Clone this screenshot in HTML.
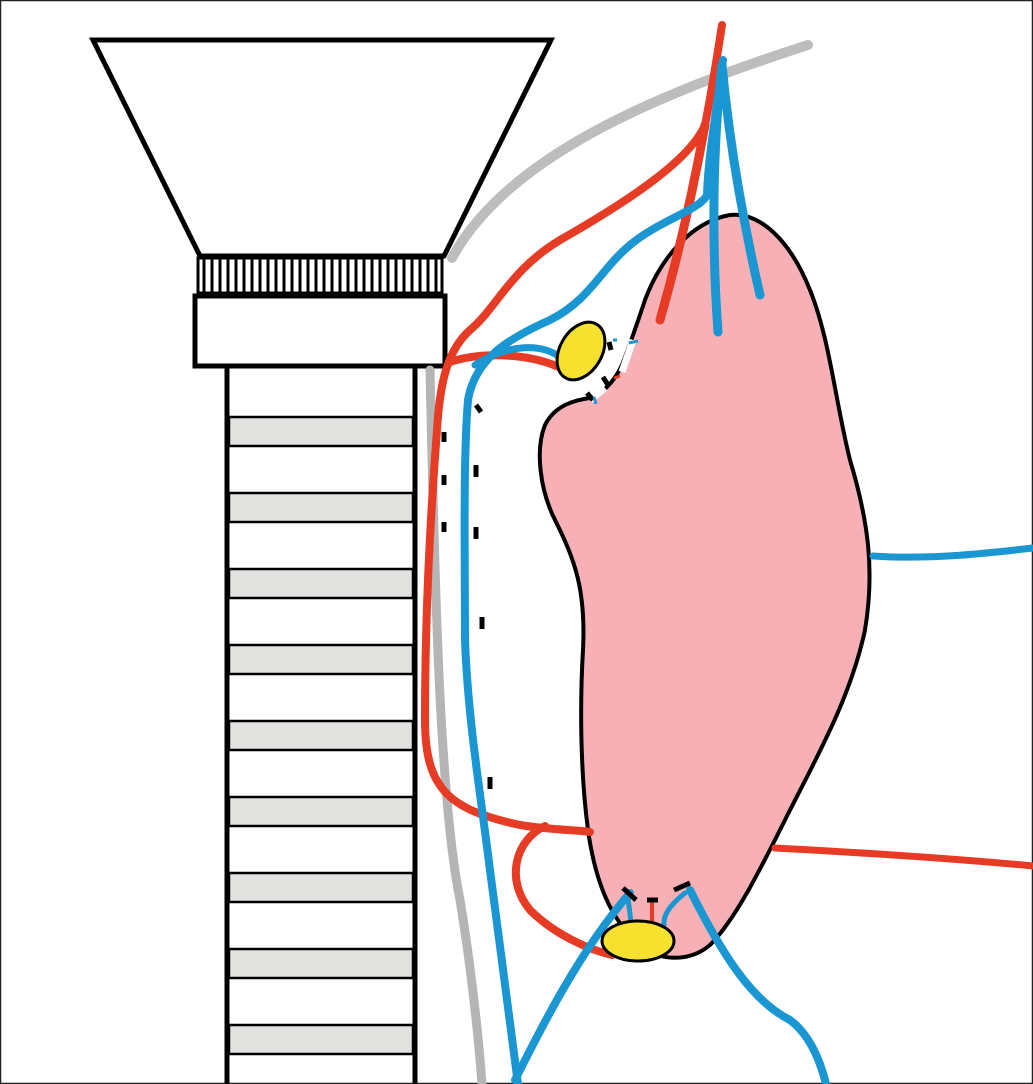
<!DOCTYPE html>
<html><head><meta charset="utf-8"><style>html,body{margin:0;padding:0;background:#fff}svg{display:block}</style></head>
<body>
<svg width="1033" height="1084" viewBox="0 0 1033 1084" xmlns="http://www.w3.org/2000/svg">
<rect x="0.5" y="0.5" width="1032" height="1083" fill="#fff" stroke="#222" stroke-width="1.5"/>
<!-- pink blob -->
<path d="M730,215 C760,212 790,240 810,290 C830,340 835,400 850,460 C868,520 875,570 865,630 C850,700 815,760 785,820 C760,870 735,920 710,945 C690,962 660,962 640,945 C610,920 595,880 588,830 C580,770 580,700 583,650 C586,590 575,560 555,520 C540,490 535,450 545,425 C555,405 575,400 590,398 C605,392 615,380 622,365 C628,350 635,330 645,300 C660,260 690,222 730,215 Z" fill="#f7b1b6" stroke="#000" stroke-width="4"/>
<!-- notch gaps -->
<path d="M633,340 L622,372 M605,388 L590,400" stroke="#fff" stroke-width="7" fill="none"/>
<!-- trapezoid -->
<polygon points="93,40 551,40 444,256 200,256" fill="#fff" stroke="#000" stroke-width="5"/>
<!-- ribbed band -->
<rect x="198" y="258" width="244" height="35" fill="#fff" stroke="#000" stroke-width="3"/>
<g stroke="#000" stroke-width="3">
<path d="M204,258V293M212,258V293M220,258V293M228,258V293M236,258V293M244,258V293M252,258V293M260,258V293M268,258V293M276,258V293M284,258V293M292,258V293M300,258V293M308,258V293M316,258V293M324,258V293M332,258V293M340,258V293M348,258V293M356,258V293M364,258V293M372,258V293M380,258V293M388,258V293M396,258V293M404,258V293M412,258V293M420,258V293M428,258V293M436,258V293"/>
</g>
<rect x="195" y="296" width="250" height="70" fill="#fff" stroke="#000" stroke-width="5"/>
<!-- column -->
<path d="M227,366V1084M415,366V1084" stroke="#000" stroke-width="5"/>
<g fill="#e2e2e0" stroke="#000" stroke-width="2.5">
<rect x="229" y="417" width="184" height="29"/>
<rect x="229" y="493" width="184" height="29"/>
<rect x="229" y="569" width="184" height="29"/>
<rect x="229" y="645" width="184" height="29"/>
<rect x="229" y="721" width="184" height="29"/>
<rect x="229" y="797" width="184" height="29"/>
<rect x="229" y="873" width="184" height="29"/>
<rect x="229" y="949" width="184" height="29"/>
<rect x="229" y="1025" width="184" height="29"/>
</g>
<g fill="none" stroke-linecap="round">
<!-- gray -->
<path d="M452,258 C500,170 620,105 808,45" stroke="#bdbdbd" stroke-width="10"/>
<path d="M430,370 C435,600 440,800 460,900 C470,960 478,1030 482,1084" stroke="#b5b5b5" stroke-width="9"/>
<!-- red -->
<path d="M722,25 C715,70 710,100 705,125 C690,160 630,200 560,240 C510,270 495,310 470,330 C448,350 440,380 437,430 C430,520 425,620 425,720 C425,790 450,810 520,825 C550,830 580,830 590,832" stroke="#e63b24" stroke-width="8"/>
<path d="M705,125 C695,180 680,250 660,320" stroke="#e63b24" stroke-width="9"/>
<path d="M450,362 C480,352 530,352 565,370" stroke="#e63b24" stroke-width="8"/>
<path d="M545,826 C515,840 505,880 530,910 C555,935 590,950 612,955" stroke="#e63b24" stroke-width="8"/>
<path d="M775,848 C850,852 950,858 1033,866" stroke="#e63b24" stroke-width="7"/>
<!-- blue -->
<path d="M723,60 C715,120 708,160 707,195 C700,210 660,220 630,245 C600,270 590,300 550,320 C505,340 475,360 468,400 C463,460 465,560 465,640 C468,720 480,790 490,870 C500,950 510,1020 518,1084" stroke="#1a97d2" stroke-width="8"/>
<path d="M722,65 C712,150 712,250 718,332" stroke="#1a97d2" stroke-width="9"/>
<path d="M722,65 C730,150 745,230 760,295" stroke="#1a97d2" stroke-width="9"/>
<path d="M475,365 C505,345 545,340 565,362" stroke="#1a97d2" stroke-width="7"/>
<path d="M515,1080 C540,1030 580,950 630,893" stroke="#1a97d2" stroke-width="8"/>
<path d="M690,890 C720,950 750,1000 790,1020 C810,1035 820,1060 826,1084" stroke="#1a97d2" stroke-width="8"/>
<path d="M628,898 C630,915 632,925 630,930 M685,893 C670,905 663,915 664,925" stroke="#1a97d2" stroke-width="5"/>
<path d="M652,900 L652,925" stroke="#e63b24" stroke-width="4"/>
<path d="M873,556 C930,560 990,553 1033,548" stroke="#1a97d2" stroke-width="7"/>
</g>
<!-- ellipses -->
<ellipse cx="581" cy="351" rx="21" ry="31" transform="rotate(30 581 351)" fill="#f5e12e" stroke="#000" stroke-width="3"/>
<ellipse cx="638" cy="941" rx="36" ry="20" fill="#f5e12e" stroke="#000" stroke-width="3"/>
<!-- suture ticks -->
<g stroke="#000" stroke-width="5" stroke-linecap="butt">
<path d="M476,405 L481,412M444,432V442M444,475V485M444,522V532M476,465V477M476,527V539M482,617V629M490,777V789"/>
<path d="M609,342 L611,350M603,377 L608,385M587,393 L593,400"/>
<path d="M623,888 L636,900M647,900H658M674,890 L690,883"/>
</g>
<g stroke="#1a97d2" stroke-width="3">
<path d="M629,343 L638,341M613,340 L617,340M594,397 L596,404"/>
</g>
<path d="M614,378 L620,376" stroke="#e63b24" stroke-width="3"/>
</svg>
</body></html>
